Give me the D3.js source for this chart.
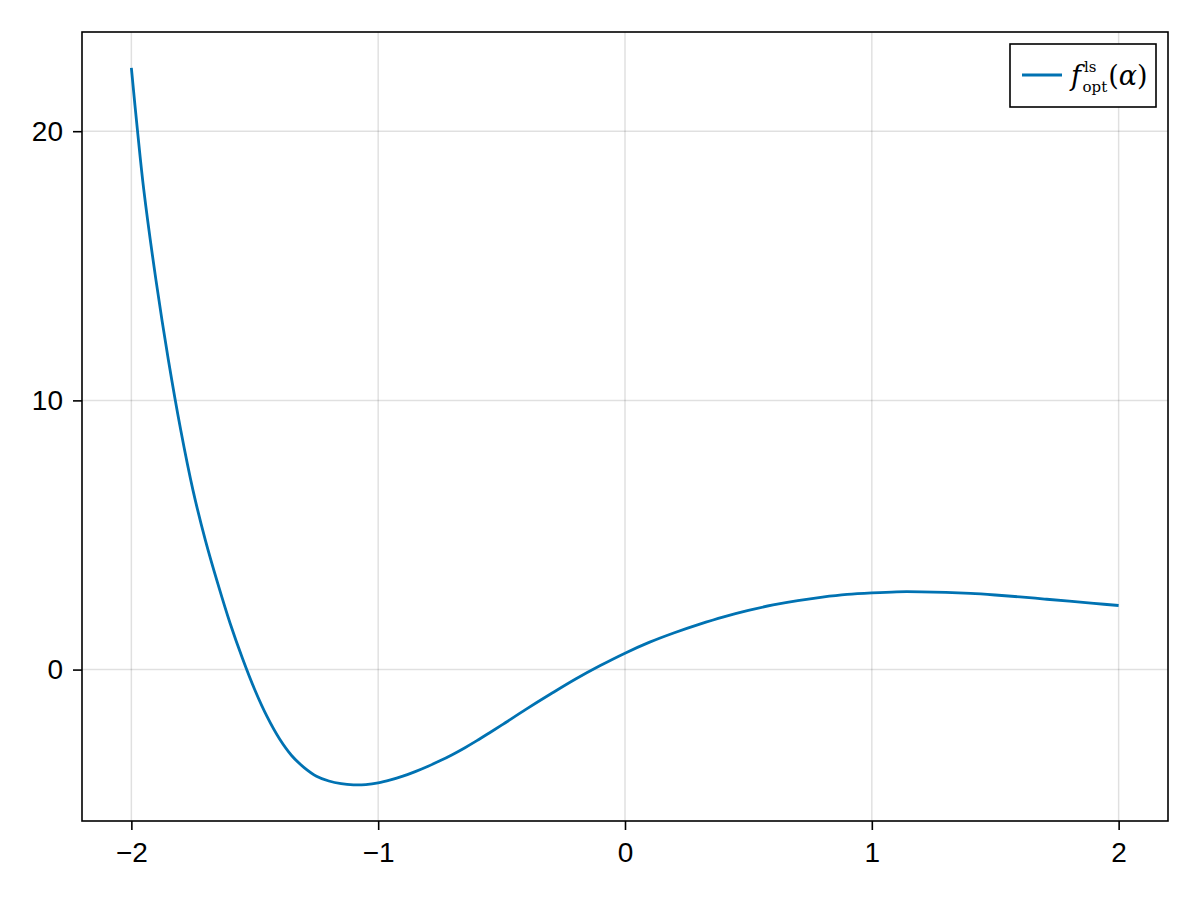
<!DOCTYPE html>
<html>
<head>
<meta charset="utf-8">
<script src="https://cdn.jsdelivr.net/npm/d3@7"></script>
<style>
  html, body { margin: 0; padding: 0; background: #fff; }
  svg { display: block; }
</style>
</head>
<body>
<svg id="chart" width="1200" height="900"></svg>
<script>
// ---- data ----
const alphaValues = [-2.0, -1.975, -1.95, -1.9, -1.85, -1.8, -1.75, -1.7, -1.65, -1.6, -1.55, -1.5, -1.45, -1.4, -1.35, -1.3, -1.25, -1.2, -1.15, -1.1, -1.05, -1.0, -0.95, -0.9, -0.85, -0.8, -0.75, -0.7, -0.65, -0.6, -0.55, -0.5, -0.4, -0.3, -0.2, -0.1, 0.0, 0.1, 0.2, 0.3, 0.4, 0.5, 0.6, 0.7, 0.8, 0.9, 1.0, 1.1, 1.2, 1.3, 1.4, 1.5, 1.6, 1.7, 1.8, 1.9, 2.0];
const fValues     = [22.35, 20.0, 17.85, 14.45, 11.5, 8.9, 6.65, 4.8, 3.2, 1.72, 0.42, -0.75, -1.75, -2.57, -3.2, -3.64, -3.96, -4.14, -4.24, -4.28, -4.27, -4.21, -4.1, -3.96, -3.79, -3.6, -3.39, -3.16, -2.91, -2.64, -2.355, -2.065, -1.47, -0.9, -0.35, 0.15, 0.61, 1.02, 1.37, 1.68, 1.96, 2.2, 2.4, 2.56, 2.69, 2.79, 2.85, 2.89, 2.89, 2.87, 2.83, 2.77, 2.7, 2.62, 2.54, 2.46, 2.38];
const xTicks = [-2, -1, 0, 1, 2];
const yTicks = [0, 10, 20];

// ---- layout ----
const svg = d3.select("#chart");
const plot = { left: 82, right: 1168, top: 32, bottom: 821 };
const lineColor = "#0072B2";

const x = d3.scaleLinear().domain([-2.2, 2.2]).range([plot.left, plot.right]);
const y = d3.scaleLinear().domain([-5.625, 23.685]).range([plot.bottom, plot.top]);

// grid
const grid = svg.append("g");
grid.selectAll("line.vx").data(xTicks).enter().append("line")
  .attr("x1", d => x(d)).attr("x2", d => x(d))
  .attr("y1", plot.top).attr("y2", plot.bottom)
  .attr("stroke", "rgba(0,0,0,0.12)").attr("stroke-width", 1.5);
grid.selectAll("line.hy").data(yTicks).enter().append("line")
  .attr("x1", plot.left).attr("x2", plot.right)
  .attr("y1", d => y(d)).attr("y2", d => y(d))
  .attr("stroke", "rgba(0,0,0,0.12)").attr("stroke-width", 1.5);

// data line
const data = alphaValues.map((a, i) => [a, fValues[i]]);
svg.append("path")
  .datum(data)
  .attr("fill", "none")
  .attr("stroke", lineColor)
  .attr("stroke-width", 2.8)
  .attr("stroke-linejoin", "round")
  .attr("d", d3.line().x(d => x(d[0])).y(d => y(d[1])).curve(d3.curveCatmullRom.alpha(0.5)));

// frame
svg.append("rect")
  .attr("x", plot.left).attr("y", plot.top)
  .attr("width", plot.right - plot.left).attr("height", plot.bottom - plot.top)
  .attr("fill", "none").attr("stroke", "#000").attr("stroke-width", 1.6);

// axes
const fmt = d => d < 0 ? "\u2212" + Math.abs(d) : String(d);
const xAxis = svg.append("g")
  .attr("transform", `translate(0,${plot.bottom})`)
  .call(d3.axisBottom(x).tickValues(xTicks).tickFormat(fmt).tickSize(9).tickPadding(12));
const yAxis = svg.append("g")
  .attr("transform", `translate(${plot.left},0)`)
  .call(d3.axisLeft(y).tickValues(yTicks).tickFormat(fmt).tickSize(9).tickPadding(10));
[xAxis, yAxis].forEach(g => {
  g.select(".domain").remove();
  g.selectAll(".tick line").attr("stroke", "#000").attr("stroke-width", 1.6);
  g.selectAll(".tick text")
    .attr("fill", "#000")
    .style("font-family", "'Liberation Sans', Arial, sans-serif")
    .style("font-size", "28px");
});

// legend
const lg = svg.append("g");
lg.append("rect")
  .attr("x", 1010).attr("y", 44).attr("width", 146).attr("height", 63)
  .attr("fill", "#fff").attr("stroke", "#000").attr("stroke-width", 1.6);
lg.append("line")
  .attr("x1", 1022).attr("x2", 1062).attr("y1", 75).attr("y2", 75)
  .attr("stroke", lineColor).attr("stroke-width", 2.8);
const t = lg.append("text")
  .attr("x", 1071).attr("y", 85)
  .style("font-family", "'DejaVu Serif', 'Liberation Serif', serif")
  .style("font-size", "27px")
  .attr("fill", "#000");
t.append("tspan").style("font-style", "italic").text("f");
t.append("tspan").attr("dx", 3).attr("dy", -13).style("font-size", "15px").text("ls");
t.append("tspan").attr("dx", -14).attr("dy", 20).style("font-size", "15px").text("opt");
t.append("tspan").attr("dx", 1).attr("dy", -7).text("(");
t.append("tspan").style("font-style", "italic").text("α");
t.append("tspan").text(")");
</script>
</body>
</html>
